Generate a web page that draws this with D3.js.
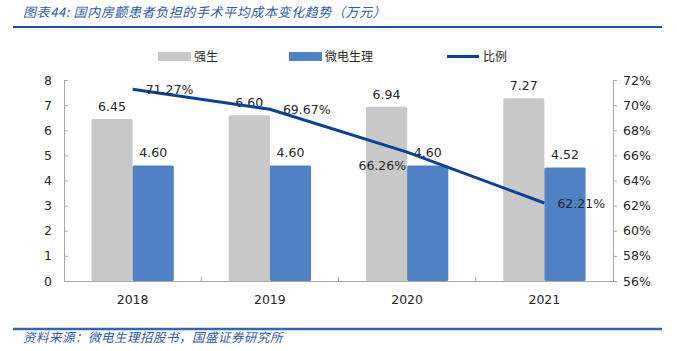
<!DOCTYPE html>
<html><head><meta charset="utf-8">
<script src="https://cdn.jsdelivr.net/npm/d3@7/dist/d3.min.js"></script>
<style>
body{margin:0;background:#fff;}
svg{display:block;}
</style></head>
<body><svg id="c" width="677" height="351"></svg>
<script>
const categories = ["2018","2019","2020","2021"];
const seriesNames = ["强生","微电生理","比例"];
const jnjValues = [6.45, 6.60, 6.94, 7.27];
const microValues = [4.60, 4.60, 4.60, 4.52];
const ratioValues = [71.27, 69.67, 66.26, 62.21];
const leftTicks = [0,1,2,3,4,5,6,7,8];
const rightTicks = [56,58,60,62,64,66,68,70,72];
const titleText = "图表44:  国内房颤患者负担的手术平均成本变化趋势（万元）";
const sourceText = "资料来源：微电生理招股书，国盛证券研究所";

const svg = d3.select("#c");
const M = {left:64, right:613, top:80, bottom:281};
const cjk = "'Noto Sans CJK SC', sans-serif";
const num = "Tahoma, 'DejaVu Sans', Verdana, sans-serif";
const colGray = "#c8c8c8", colBlue = "#4f81c4", colLine = "#0b4097";
const axisCol = "#a6a6a6", textCol = "#262626";

// title & frame lines
svg.append("text").attr("x",23).attr("y",17).attr("fill","#2d5caa")
  .attr("font-family",cjk).attr("font-size",13).attr("font-style","italic")
  .attr("letter-spacing",0.6).text(titleText);
svg.append("line").attr("x1",13).attr("x2",662).attr("y1",27).attr("y2",27)
  .attr("stroke","#1c4fa0").attr("stroke-width",2);
svg.append("line").attr("x1",13).attr("x2",662).attr("y1",329).attr("y2",329)
  .attr("stroke","#3566b0").attr("stroke-width",2.5);
svg.append("text").attr("x",23).attr("y",342).attr("fill","#2d5caa")
  .attr("font-family",cjk).attr("font-size",12.5).attr("font-style","italic")
  .attr("letter-spacing",0.5).text(sourceText);

// scales
const x0 = d3.scaleBand().domain(categories).range([M.left,M.right]).paddingInner(0).paddingOuter(0);
const x1 = d3.scaleBand().domain([0,1]).range([0,x0.bandwidth()*0.6]);
const yL = d3.scaleLinear().domain([0,8]).range([M.bottom,M.top]);
const yR = d3.scaleLinear().domain([56,72]).range([M.bottom,M.top]);
const groupOff = x0.bandwidth()*0.2;

// left axis
const gL = svg.append("g").attr("transform",`translate(${M.left},0)`)
  .call(d3.axisLeft(yL).tickValues(leftTicks).tickSize(-4).tickPadding(12).tickFormat(d3.format("d")));
// right axis
const gR = svg.append("g").attr("transform",`translate(${M.right},0)`)
  .call(d3.axisRight(yR).tickValues(rightTicks).tickSize(4).tickPadding(6).tickFormat(d=>d+"%"));
// bottom axis
const gB = svg.append("g").attr("transform",`translate(0,${M.bottom})`)
  .call(d3.axisBottom(x0).tickSize(0).tickPadding(14));
[gL,gR,gB].forEach(g=>{
  g.select(".domain").attr("stroke",axisCol).attr("stroke-width",1);
  g.selectAll(".tick line").attr("stroke",axisCol);
  g.selectAll("text").attr("fill",textCol).attr("font-family",num).attr("font-size",12.5);
});
// category boundary ticks on bottom axis
svg.append("g").selectAll("line").data(categories.slice(1)).join("line")
  .attr("x1",d=>x0(d)).attr("x2",d=>x0(d)).attr("y1",M.bottom).attr("y2",M.bottom-4)
  .attr("stroke",axisCol);

// bars
const bars = [jnjValues, microValues];
const cols = [colGray, colBlue];
bars.forEach((vals,si)=>{
  svg.append("g").selectAll("rect").data(vals).join("rect")
    .attr("x",(d,i)=>x0(categories[i])+groupOff+x1(si))
    .attr("width",x1.bandwidth())
    .attr("y",d=>yL(d)).attr("height",d=>yL(0)-yL(d))
    .attr("rx",1.5).attr("fill",cols[si]);
  svg.append("g").selectAll("text").data(vals).join("text")
    .attr("x",(d,i)=>x0(categories[i])+groupOff+x1(si)+x1.bandwidth()/2)
    .attr("y",d=>yL(d)-8).attr("text-anchor","middle")
    .attr("fill",textCol).attr("font-family",num).attr("font-size",12.5)
    .text(d=>d.toFixed(2));
});

// line
const cx = c => x0(c)+x0.bandwidth()/2;
const line = d3.line().x((d,i)=>cx(categories[i])).y(d=>yR(d));
svg.append("path").datum(ratioValues).attr("d",line).attr("fill","none")
  .attr("stroke",colLine).attr("stroke-width",3).attr("stroke-linejoin","round");
const place = ["right","right","leftBelow","right"];
svg.append("g").selectAll("text").data(ratioValues).join("text")
  .attr("x",(d,i)=>place[i]==="right"? cx(categories[i])+13 : cx(categories[i])-1)
  .attr("y",(d,i)=>place[i]==="right"? yR(d)+5 : yR(d)+18)
  .attr("text-anchor",(d,i)=>place[i]==="right"?"start":"end")
  .attr("fill",textCol).attr("font-family",num).attr("font-size",12.5)
  .text(d=>d.toFixed(2)+"%");

// legend
const lg = svg.append("g").attr("font-family",cjk).attr("font-size",12).attr("fill",textCol);
const legX = [158, 289, 447];
[0,1].forEach(i=>{
  lg.append("rect").attr("x",legX[i]).attr("y",52).attr("width",33).attr("height",9).attr("fill",cols[i]);
  lg.append("text").attr("x",legX[i]+36).attr("y",61).text(seriesNames[i]);
});
lg.append("line").attr("x1",legX[2]).attr("x2",legX[2]+32).attr("y1",56.5).attr("y2",56.5)
  .attr("stroke",colLine).attr("stroke-width",3);
lg.append("text").attr("x",legX[2]+36).attr("y",61).text(seriesNames[2]);
</script></body></html>
